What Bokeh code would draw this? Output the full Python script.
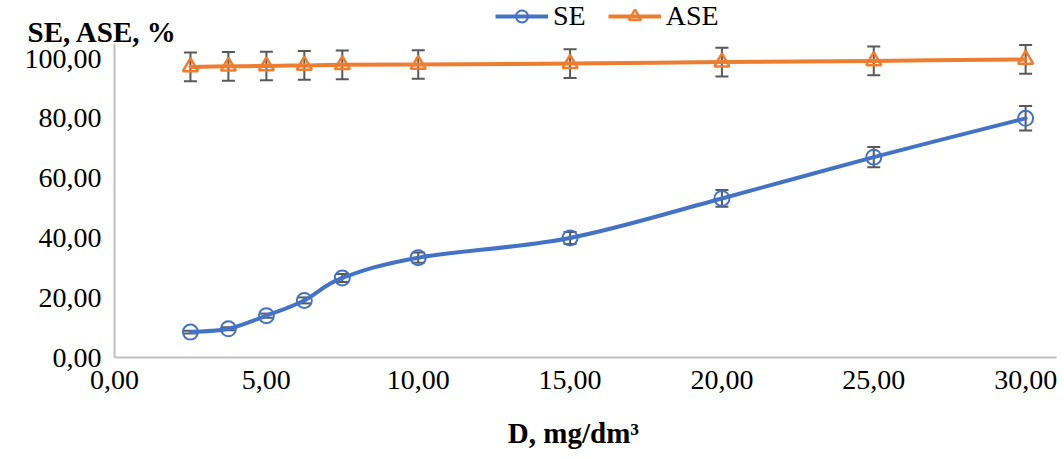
from bokeh.plotting import figure
from bokeh.models import (Range1d, FixedTicker, Whisker, TeeHead, ColumnDataSource,
                          Legend, LegendItem, Label)
from bokeh.embed import file_html
from bokeh.resources import INLINE

# ---- data ----
dose = [2.5, 3.75, 5.0, 6.25, 7.5, 10.0, 15.0, 20.0, 25.0, 30.0]
se = [8.5, 9.6, 14.0, 19.1, 26.6, 33.4, 40.0, 53.2, 67.0, 80.0]
se_err = [0.45, 0.5, 0.7, 1.0, 1.35, 1.7, 2.0, 2.8, 3.4, 4.1]
ase = [97.2, 97.4, 97.5, 97.7, 97.9, 98.0, 98.3, 98.8, 99.2, 99.7]
ase_err = [4.8, 4.8, 4.8, 4.8, 4.8, 4.8, 4.8, 4.8, 4.8, 4.8]
x_ticks = [0, 5, 10, 15, 20, 25, 30]
x_tick_labels = ["0,00", "5,00", "10,00", "15,00", "20,00", "25,00", "30,00"]
y_ticks = [0, 20, 40, 60, 80, 100]
y_tick_labels = ["0,00", "20,00", "40,00", "60,00", "80,00", "100,00"]

FONT = "Liberation Serif"
BLUE = "#4472C4"
ORANGE = "#ED7D31"
GREY = "#595959"


def smooth(xs, ys):
    """Bezier control points of a Catmull-Rom style smoothed line through the points."""
    n = len(xs)
    d = dict(x0=[], y0=[], x1=[], y1=[], cx0=[], cy0=[], cx1=[], cy1=[])
    for i in range(n - 1):
        a = i - 1 if i > 0 else i
        b = i + 2 if i + 2 < n else i + 1
        d["x0"].append(xs[i]); d["y0"].append(ys[i])
        d["x1"].append(xs[i + 1]); d["y1"].append(ys[i + 1])
        d["cx0"].append(xs[i] + (xs[i + 1] - xs[a]) / 6)
        d["cy0"].append(ys[i] + (ys[i + 1] - ys[a]) / 6)
        d["cx1"].append(xs[i + 1] - (xs[b] - xs[i]) / 6)
        d["cy1"].append(ys[i + 1] - (ys[b] - ys[i]) / 6)
    return ColumnDataSource(d)


# the frame spans the whole canvas; both axes are pinned at 0 and limited with bounds
p = figure(width=1064, height=459, output_backend="svg", toolbar_location=None,
           x_range=Range1d(-3.754, 31.28), y_range=Range1d(-34.1, 119.4),
           min_border_left=0, min_border_right=0, min_border_top=0, min_border_bottom=0)
p.outline_line_color = None
p.xgrid.grid_line_color = None
p.ygrid.grid_line_color = None
p.background_fill_color = "white"
p.border_fill_color = "white"

for ax in (p.xaxis[0], p.yaxis[0]):
    ax.axis_line_color = "#BFBFBF"
    ax.axis_line_width = 2
    ax.major_tick_line_color = None
    ax.minor_tick_line_color = None
    ax.major_label_text_font = FONT
    ax.major_label_text_font_size = "28px"
    ax.major_label_text_color = "black"

p.xaxis.bounds = (0, 31.02)
p.yaxis.bounds = (0, 105)
p.xaxis.fixed_location = 0
p.yaxis.fixed_location = 0
p.xaxis.ticker = FixedTicker(ticks=x_ticks)
p.xaxis.major_label_overrides = dict(zip(x_ticks, x_tick_labels))
p.yaxis.ticker = FixedTicker(ticks=y_ticks)
p.yaxis.major_label_overrides = dict(zip(y_ticks, y_tick_labels))
p.xaxis.major_label_standoff = 7
p.yaxis.major_label_standoff = 7

# smoothed lines
p.bezier(source=smooth(dose, se), x0="x0", y0="y0", x1="x1", y1="y1",
         cx0="cx0", cy0="cy0", cx1="cx1", cy1="cy1",
         line_color=BLUE, line_width=4, line_cap="round")
p.bezier(source=smooth(dose, ase), x0="x0", y0="y0", x1="x1", y1="y1",
         cx0="cx0", cy0="cy0", cx1="cx1", cy1="cy1",
         line_color=ORANGE, line_width=4, line_cap="round")

# error bars
src = ColumnDataSource(dict(
    x=dose,
    se_lo=[v - e for v, e in zip(se, se_err)], se_hi=[v + e for v, e in zip(se, se_err)],
    ase_lo=[v - e for v, e in zip(ase, ase_err)], ase_hi=[v + e for v, e in zip(ase, ase_err)],
    se=se, ase=ase))
for lo, hi in (("se_lo", "se_hi"), ("ase_lo", "ase_hi")):
    w = Whisker(source=src, base="x", lower=lo, upper=hi, dimension="height",
                line_color=GREY, line_width=2,
                upper_head=TeeHead(size=13, line_color=GREY, line_width=2),
                lower_head=TeeHead(size=13, line_color=GREY, line_width=2))
    p.add_layout(w)

# markers
m_se = p.scatter("x", "se", source=src, marker="circle", size=15, fill_color=None,
                 line_color=BLUE, line_width=2)
m_ase = p.scatter("x", "ase", source=src, marker="triangle", size=15, fill_color=None,
                  line_color=ORANGE, line_width=2.5)

# legend line proxies (a single point draws nothing on the plot)
l_se = p.line(x=dose[:1], y=se[:1], line_color=BLUE, line_width=4)
l_ase = p.line(x=dose[:1], y=ase[:1], line_color=ORANGE, line_width=4)
legend = Legend(items=[LegendItem(label="SE", renderers=[l_se, m_se]),
                       LegendItem(label="ASE", renderers=[l_ase, m_ase])],
                orientation="horizontal", location=(495, 427),
                padding=0, margin=0, spacing=22, label_standoff=5,
                glyph_width=53, glyph_height=30, label_height=30,
                label_text_font=FONT, label_text_font_size="28px", label_text_color="black",
                background_fill_alpha=0, border_line_color=None)
p.add_layout(legend)

p.add_layout(Label(x=-2.865, y=109.0, text="SE, ASE, %", text_font=FONT,
                   text_font_size="29px", text_font_style="bold", text_color="black",
                   text_baseline="alphabetic"))
p.add_layout(Label(x=15.11, y=-25.4, text="D, mg/dm³", text_font=FONT,
                   text_font_size="29px", text_font_style="bold", text_color="black",
                   text_align="center", text_baseline="middle"))

open("out.html", "w").write(file_html(p, INLINE))
